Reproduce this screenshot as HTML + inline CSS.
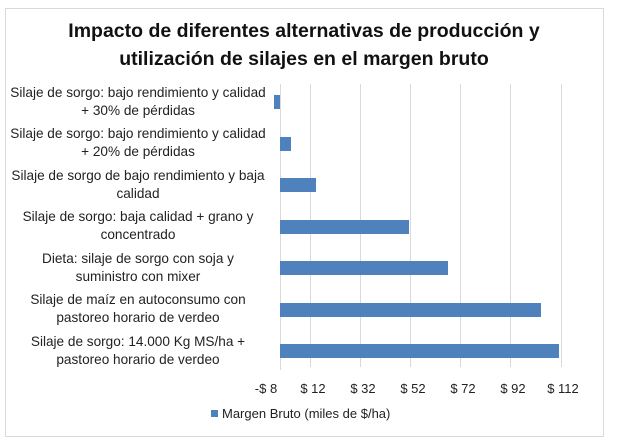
<!DOCTYPE html>
<html><head><meta charset="utf-8"><style>
html,body{margin:0;padding:0;background:#fff;}
svg{display:block;font-family:"Liberation Sans",sans-serif;}
</style></head><body>
<svg width="617" height="441" viewBox="0 0 617 441">
<rect x="0" y="0" width="617" height="441" fill="#fff"/>
<rect x="5.5" y="8.5" width="598" height="428" fill="#fff" stroke="#d9d9d9"/>
<text x="304" y="37" font-size="19.5" font-weight="bold" text-anchor="middle" fill="#111">Impacto de diferentes alternativas de producción y</text>
<text x="304" y="65" font-size="19.5" font-weight="bold" text-anchor="middle" fill="#111">utilización de silajes en el margen bruto</text>
<g stroke="#d9d9d9" stroke-width="1">
<line x1="310.5" y1="84" x2="310.5" y2="367"/>
<line x1="360.5" y1="84" x2="360.5" y2="367"/>
<line x1="410.5" y1="84" x2="410.5" y2="367"/>
<line x1="460.5" y1="84" x2="460.5" y2="367"/>
<line x1="510.5" y1="84" x2="510.5" y2="367"/>
<line x1="561.5" y1="84" x2="561.5" y2="367"/>
<line x1="280.5" y1="84" x2="280.5" y2="370"/>
</g>
<g fill="#4f81bd">
<rect x="274" y="95" width="6" height="14"/>
<rect x="280" y="137" width="11" height="14"/>
<rect x="280" y="178" width="36" height="14"/>
<rect x="280" y="220" width="129" height="14"/>
<rect x="280" y="261" width="168" height="14"/>
<rect x="280" y="303" width="261" height="14"/>
<rect x="280" y="344" width="279" height="14"/>
</g>
<g font-size="13.6" fill="#222" text-anchor="middle">
<text x="138" y="97">Silaje de sorgo: bajo rendimiento y calidad</text>
<text x="138" y="115">+ 30% de pérdidas</text>
<text x="138" y="138">Silaje de sorgo: bajo rendimiento y calidad</text>
<text x="138" y="156">+ 20% de pérdidas</text>
<text x="138" y="180">Silaje de sorgo de bajo rendimiento y baja</text>
<text x="138" y="198">calidad</text>
<text x="138" y="221">Silaje de sorgo: baja calidad + grano y</text>
<text x="138" y="239">concentrado</text>
<text x="138" y="263">Dieta: silaje de sorgo  con soja y</text>
<text x="138" y="281">suministro con mixer</text>
<text x="138" y="304">Silaje de maíz en autoconsumo con</text>
<text x="138" y="322">pastoreo horario de verdeo</text>
<text x="138" y="346">Silaje de sorgo: 14.000 Kg MS/ha +</text>
<text x="138" y="364">pastoreo horario de verdeo</text>
</g>
<g font-size="13" fill="#222" text-anchor="middle">
<text x="266" y="393">-$ 8</text>
<text x="313" y="393">$ 12</text>
<text x="363" y="393">$ 32</text>
<text x="413" y="393">$ 52</text>
<text x="463" y="393">$ 72</text>
<text x="513" y="393">$ 92</text>
<text x="563" y="393">$ 112</text>
</g>
<rect x="211" y="410" width="7" height="7" fill="#4f81bd"/>
<text x="222" y="418" font-size="13" fill="#222">Margen Bruto (miles de $/ha)</text>
</svg>
</body></html>
